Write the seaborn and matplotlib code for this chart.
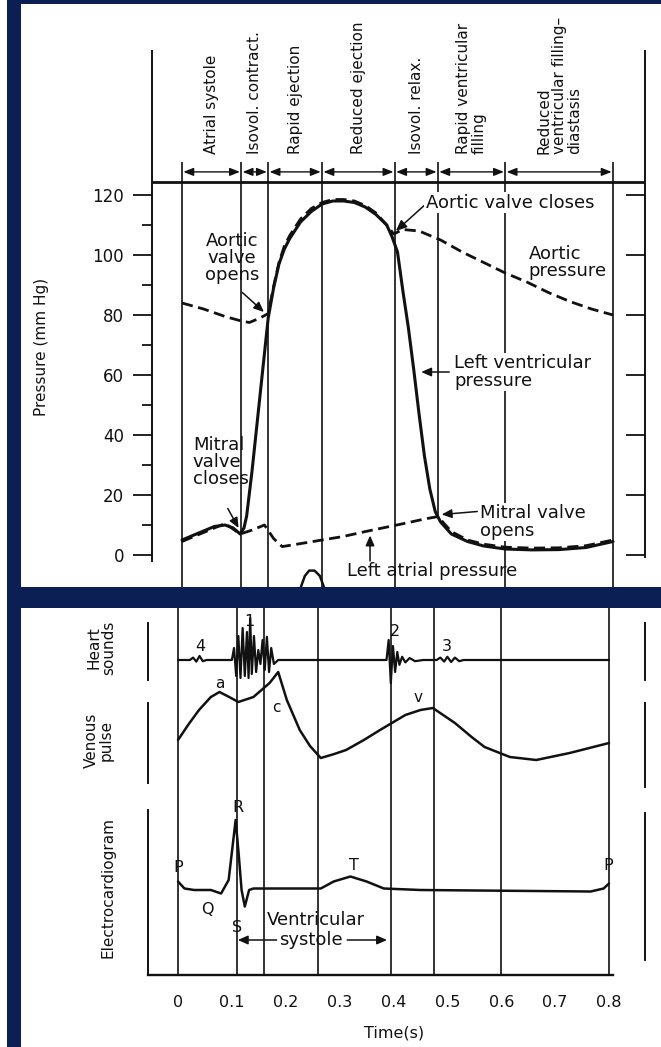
import matplotlib.pyplot as plt
from matplotlib.patches import Rectangle
import seaborn as sns

W, H = 661, 1047
PXS = 538.75          # pixels per second on the time axis
NAVY = "#0b1f55"
INK = "#111111"

# ---------------------------------------------------------
# DATA
# ---------------------------------------------------------
phase_t = [0.0, 0.11, 0.16, 0.26, 0.395, 0.475, 0.6, 0.8]
phase_names = ["Atrial systole", "Isovol. contract.", "Rapid ejection",
               "Reduced ejection", "Isovol. relax.",
               "Rapid ventricular\nfilling",
               "Reduced\nventricular filling–\ndiastasis"]

p_ticks = [0, 20, 40, 60, 80, 100, 120]
p_minor = [10, 30, 50, 70, 90, 110]
time_ticks = [0, 0.1, 0.2, 0.3, 0.4, 0.5, 0.6, 0.7, 0.8]
time_labels = ["0", "0.1", "0.2", "0.3", "0.4", "0.5", "0.6", "0.7", "0.8"]

# aortic pressure (mm Hg)
aortic_t = [0.0, 0.04, 0.08, 0.11, 0.125, 0.145, 0.16, 0.17, 0.18, 0.19, 0.2,
            0.22, 0.24, 0.26, 0.28, 0.3, 0.32, 0.34, 0.36, 0.38, 0.393, 0.41,
            0.44, 0.48, 0.52, 0.56, 0.6, 0.64, 0.68, 0.72, 0.76, 0.8]
aortic_p = [84, 82, 79.5, 78, 77.5, 79, 80.5, 89.5, 97.5, 103, 106.5,
            112, 115.5, 117.5, 118.5, 118.5, 118, 116.5, 114, 110, 107, 108.5,
            108, 105, 101, 97.5, 94, 91, 87.5, 84.5, 82, 80]

# left ventricular pressure (mm Hg)
lv_t = [0.0, 0.02, 0.04, 0.06, 0.08, 0.095, 0.108, 0.115, 0.12, 0.13, 0.14,
        0.15, 0.16, 0.17, 0.18, 0.19, 0.2, 0.22, 0.24, 0.26, 0.28, 0.3, 0.32,
        0.34, 0.36, 0.38, 0.39, 0.40, 0.41, 0.42, 0.43, 0.44, 0.45, 0.46,
        0.47, 0.48, 0.5, 0.53, 0.56, 0.6, 0.65, 0.7, 0.75, 0.8]
lv_p = [5, 6.5, 8, 9.5, 10, 9, 7, 9, 13, 28, 45,
        62, 79, 89, 97, 102, 105.5, 111, 114.5, 117, 118, 118, 117.5,
        116, 113.5, 110, 106, 101, 88, 76, 62, 47, 33, 22,
        14.5, 11, 7, 4.5, 3, 2, 1.7, 1.8, 2.5, 4.5]

# left atrial pressure (mm Hg)
la_t = [0.0, 0.04, 0.08, 0.108, 0.13, 0.153, 0.17, 0.186, 0.22, 0.26, 0.3,
        0.34, 0.38, 0.42, 0.45, 0.475, 0.5, 0.53, 0.56, 0.6, 0.65, 0.7,
        0.75, 0.8]
la_p = [4.5, 7.5, 10.5, 7, 8.3, 10, 5.5, 2.8, 3.8, 5, 6.2,
        7.8, 9.3, 10.8, 12, 12.8, 7.8, 5, 3.6, 2.6, 2.3, 2.4,
        3.1, 5]

# scrap of the next figure showing under the pressure panel
blob_t = [0.22, 0.228, 0.236, 0.246, 0.256, 0.264]
blob_p = [-11, -7, -5.2, -5.2, -7, -11]

# heart sounds (arbitrary units)
hs_t = [0.0, 0.022, 0.028, 0.034, 0.04, 0.046, 0.053,
        0.100, 0.104, 0.108, 0.112, 0.116, 0.120, 0.124, 0.128, 0.131,
        0.134, 0.137, 0.141, 0.145, 0.149, 0.153, 0.157, 0.161, 0.165,
        0.169, 0.173, 0.178, 0.186,
        0.387, 0.391, 0.395, 0.399, 0.403, 0.407, 0.411, 0.416, 0.422,
        0.43, 0.44, 0.455,
        0.48, 0.487, 0.494, 0.5, 0.507, 0.514, 0.522, 0.53, 0.8]
hs_v = [0, 0, 0.06, -0.04, 0.1, -0.03, 0,
        0, 0.3, -0.4, 0.6, -0.45, 0.8, -0.4, 0.7, -0.45,
        1.05, -0.35, 0.6, -0.3, 0.25, -0.1, 0.5, -0.25, 0.58,
        -0.3, 0.3, -0.1, 0,
        0, 0.5, -0.58, 0.35, -0.3, 0.2, -0.12, 0.08, -0.06,
        0.05, -0.03, 0,
        0, 0.06, -0.04, 0.08, -0.05, 0.06, -0.03, 0, 0]

# venous pulse (arbitrary units)
vp_t = [0.0, 0.02, 0.039, 0.061, 0.077, 0.095, 0.112, 0.14, 0.17, 0.186,
        0.202, 0.226, 0.245, 0.265, 0.29, 0.312, 0.345, 0.375, 0.422, 0.45,
        0.473, 0.514, 0.545, 0.569, 0.616, 0.665, 0.727, 0.8]
vp_v = [5.0, 6.6, 8.0, 9.3, 9.8, 9.3, 8.8, 9.3, 10.7, 11.8,
        9.0, 6.0, 4.4, 3.2, 3.6, 4.0, 5.0, 6.0, 7.5, 8.0,
        8.2, 6.7, 5.3, 4.3, 3.3, 3.0, 3.7, 4.7]

# electrocardiogram (mV)
ecg_t = [0.0, 0.012, 0.03, 0.061, 0.08, 0.094, 0.107, 0.113, 0.118, 0.124,
         0.132, 0.14, 0.265, 0.289, 0.32, 0.35, 0.382, 0.45, 0.766, 0.79, 0.8]
ecg_v = [0.17, 0.03, 0.0, 0.0, -0.07, 0.2, 1.4, 0.67, 0.0, -0.33,
         0.0, 0.03, 0.03, 0.17, 0.27, 0.17, 0.03, 0.0, -0.03, 0.03, 0.13]

# ---------------------------------------------------------
# SETUP
# ---------------------------------------------------------
sns.set_theme(style="white")
plt.rcParams["font.family"] = ["DejaVu Sans"]
plt.rcParams["text.color"] = INK

fig = plt.figure(figsize=(W / 100, H / 100), dpi=100, facecolor="white")


def px_axes(x0, y0, x1, y1, t0):
    """axes placed by pixel box, time axis so that t=0 sits at pixel t0"""
    ax = fig.add_axes([x0 / W, 1 - y1 / H, (x1 - x0) / W, (y1 - y0) / H])
    ax.set_xlim((x0 - t0) / PXS, (x1 - t0) / PXS)
    ax.patch.set_visible(False)
    for s in ax.spines.values():
        s.set_visible(False)
    ax.set_xticks([])
    ax.set_yticks([])
    return ax


def bar(ax, side, x, lo, hi, lw=1.4):
    s = ax.spines[side]
    s.set_visible(True)
    s.set_position(("data", x))
    s.set_bounds(lo, hi)
    s.set_color(INK)
    s.set_linewidth(lw)


def figtext(x, y, s, **kw):
    fig.text(x / W, 1 - y / H, s, **kw)


line_kw = dict(color=INK, sort=False, legend=False, zorder=5)
dash = (0, (4, 2))
arrow = dict(arrowstyle="-|>,head_length=0.5,head_width=0.22", color=INK,
             lw=1.1, shrinkA=0, shrinkB=0)
white_box = dict(facecolor="white", edgecolor="none", pad=1)
FS = 13

# ---------------------------------------------------------
# PRESSURE PANEL
# ---------------------------------------------------------
ax = px_axes(21, 4, 661, 587, 182)
ylim_top = ((555 - 587) / 3, (555 - 4) / 3)

bar(ax, "left", -0.0557, -2, 168)
ax.set_yticks(p_ticks)
ax.set_yticks(p_minor, minor=True)
ax.tick_params(axis="y", which="major", direction="out", length=14, width=1.3,
               colors=INK, labelsize=12, pad=6)
ax.tick_params(axis="y", which="minor", direction="out", length=7, width=1.3,
               colors=INK)

axr = ax.twinx()
for s in axr.spines.values():
    s.set_visible(False)
bar(axr, "right", 0.859, -0.7, 168)
axr.set_yticks(p_ticks)
axr.tick_params(axis="y", direction="in", length=14, width=1.3, colors=INK,
                labelright=False)

top_line_low = [-11, -11, -11, -11, -11, 12.5, -11, -11]
ax.vlines(phase_t, top_line_low, 131, colors=INK, lw=1.2, zorder=1)
ax.hlines(124.3, -0.0557, 0.859, colors=INK, lw=2.0, zorder=1)

for a, b, name in zip(phase_t[:-1], phase_t[1:], phase_names):
    ax.annotate("", xy=(a, 127.7), xytext=(b, 127.7),
                arrowprops=dict(arrowstyle="<|-|>,head_length=0.5,head_width=0.2",
                                color=INK, lw=1.0, shrinkA=1, shrinkB=1))
    ax.text((a + b) / 2, 133.5, name, rotation=90, ha="center", va="bottom",
            multialignment="left", fontsize=11, linespacing=1.05)

sns.lineplot(x=lv_t, y=lv_p, ax=ax, lw=2.2, **line_kw)
sns.lineplot(x=aortic_t, y=aortic_p, ax=ax, lw=2.0, linestyle=dash, **line_kw)
sns.lineplot(x=la_t, y=la_p, ax=ax, lw=2.0, linestyle=dash, **line_kw)
sns.lineplot(x=blob_t, y=blob_p, ax=ax, lw=1.8, **line_kw)

ax.annotate("Aortic valve closes", xy=(0.397, 108), xytext=(0.452, 117.5),
            ha="left", va="center", fontsize=FS, bbox=white_box,
            arrowprops=dict(arrow, relpos=(0, 0.4)))
ax.text(0.093, 99, "Aortic\nvalve\nopens", ha="center", va="center",
        fontsize=FS, linespacing=0.95)
ax.annotate("", xy=(0.152, 81), xytext=(0.112, 87.5), arrowprops=arrow)
ax.text(0.643, 97.5, "Aortic\npressure", ha="left", va="center",
        fontsize=FS, linespacing=0.95)
ax.text(0.505, 61, "Left ventricular\npressure", ha="left", va="center",
        fontsize=FS, linespacing=0.95, bbox=white_box)
ax.annotate("", xy=(0.444, 61), xytext=(0.496, 61), arrowprops=arrow)
ax.text(0.02, 31, "Mitral\nvalve\ncloses", ha="left", va="center",
        fontsize=FS, linespacing=0.95)
ax.annotate("", xy=(0.105, 9), xytext=(0.085, 15.5), arrowprops=arrow)
ax.text(0.553, 11, "Mitral valve\nopens", ha="left", va="center",
        fontsize=FS, linespacing=0.95, bbox=white_box)
ax.annotate("", xy=(0.482, 13.5), xytext=(0.548, 14.5), arrowprops=arrow)
ax.text(0.306, -5.5, "Left atrial pressure", ha="left", va="center",
        fontsize=FS)
ax.annotate("", xy=(0.349, 6.5), xytext=(0.349, -2), arrowprops=arrow)

ax.set_ylim(ylim_top)
axr.set_ylim(ylim_top)
ax.set_xlim((21 - 182) / PXS, (661 - 182) / PXS)

figtext(42, 347, "Pressure (mm Hg)", rotation=90, ha="center", va="center",
        fontsize=11)

# ---------------------------------------------------------
# SOUNDS / VENOUS PULSE / ECG PANEL
# ---------------------------------------------------------
axb = px_axes(21, 608, 661, 1047, 178)
axb.set_ylim(1047, 608)
axb.vlines(phase_t, 608, 975, colors=INK, lw=1.2)

hs = px_axes(21, 612, 661, 708, 178)
bar(hs, "left", -0.0557, -0.5, 0.925)
bar(hs, "right", 0.8668, -0.5, 0.925)
sns.lineplot(x=hs_t, y=hs_v, ax=hs, lw=1.6, **line_kw)
for s, t, v in [("4", 0.041, 0.33), ("1", 0.132, 0.95), ("2", 0.403, 0.7),
                ("3", 0.499, 0.33)]:
    hs.text(t, v, s, ha="center", va="center", fontsize=11.5)
hs.set_ylim(-1.2, 1.2)
hs.set_xlim((21 - 178) / PXS, (661 - 178) / PXS)

vp = px_axes(21, 665, 661, 790, 178)
bar(vp, "left", -0.0557, 0.7, 8.7)
bar(vp, "right", 0.8668, 0.3, 8.7)
sns.lineplot(x=vp_t, y=vp_v, ax=vp, lw=1.8, **line_kw)
for s, t, v in [("a", 0.078, 10.6), ("c", 0.182, 8.3), ("v", 0.445, 9.3)]:
    vp.text(t, v, s, ha="center", va="center", fontsize=11)
vp.set_ylim(0, 12.5)
vp.set_xlim((21 - 178) / PXS, (661 - 178) / PXS)

ecg = px_axes(21, 800, 661, 975, 178)
bar(ecg, "left", -0.0557, -1.7, 1.6)
bar(ecg, "right", 0.8668, -1.4, 1.54)
bar(ecg, "bottom", -1.7, -0.0557, 0.808, lw=1.7)
ecg.spines["bottom"].set_position(("outward", 0))
ecg.set_xticks(time_ticks, time_labels)
ecg.tick_params(axis="x", direction="out", length=9.5, width=1.4, colors=INK,
                labelsize=11.5, pad=5)
sns.lineplot(x=ecg_t, y=ecg_v, ax=ecg, lw=1.8, **line_kw)
for s, t, v in [("P", 0.0, 0.46), ("P", 0.798, 0.48), ("R", 0.111, 1.64),
                ("Q", 0.054, -0.38), ("S", 0.110, -0.76), ("T", 0.327, 0.48)]:
    ecg.text(t, v, s, ha="center", va="center", fontsize=11.5)
ecg.text(0.165, -0.6, "Ventricular", ha="left", va="center", fontsize=FS)
ecg.text(0.247, -1.0, "systole", ha="center", va="center", fontsize=FS)
ecg.annotate("", xy=(0.111, -1.0), xytext=(0.183, -1.0), arrowprops=arrow)
ecg.annotate("", xy=(0.388, -1.0), xytext=(0.314, -1.0), arrowprops=arrow)
ecg.set_ylim(-1.7, 1.8)
ecg.set_xlim((21 - 178) / PXS, (661 - 178) / PXS)

figtext(101, 648, "Heart\nsounds", rotation=90, ha="center", va="center",
        fontsize=11, linespacing=1.0)
figtext(99, 740, "Venous\npulse", rotation=90, ha="center", va="center",
        fontsize=11, linespacing=1.0)
figtext(108, 887, "Electrocardiogram", rotation=90, ha="center", va="center",
        fontsize=11)
figtext(394, 1033, "Time(s)", ha="center", va="center", fontsize=11.5)

# ---------------------------------------------------------
# NAVY FRAME
# ---------------------------------------------------------
for x0, y0, x1, y1 in [(7, 0, 21, H), (7, 0, W, 4), (7, 587, W, 608)]:
    fig.add_artist(Rectangle((x0 / W, 1 - y1 / H), (x1 - x0) / W, (y1 - y0) / H,
                             transform=fig.transFigure, facecolor=NAVY,
                             edgecolor="none", zorder=10))

fig.savefig("out.png", dpi=100, facecolor="white")
